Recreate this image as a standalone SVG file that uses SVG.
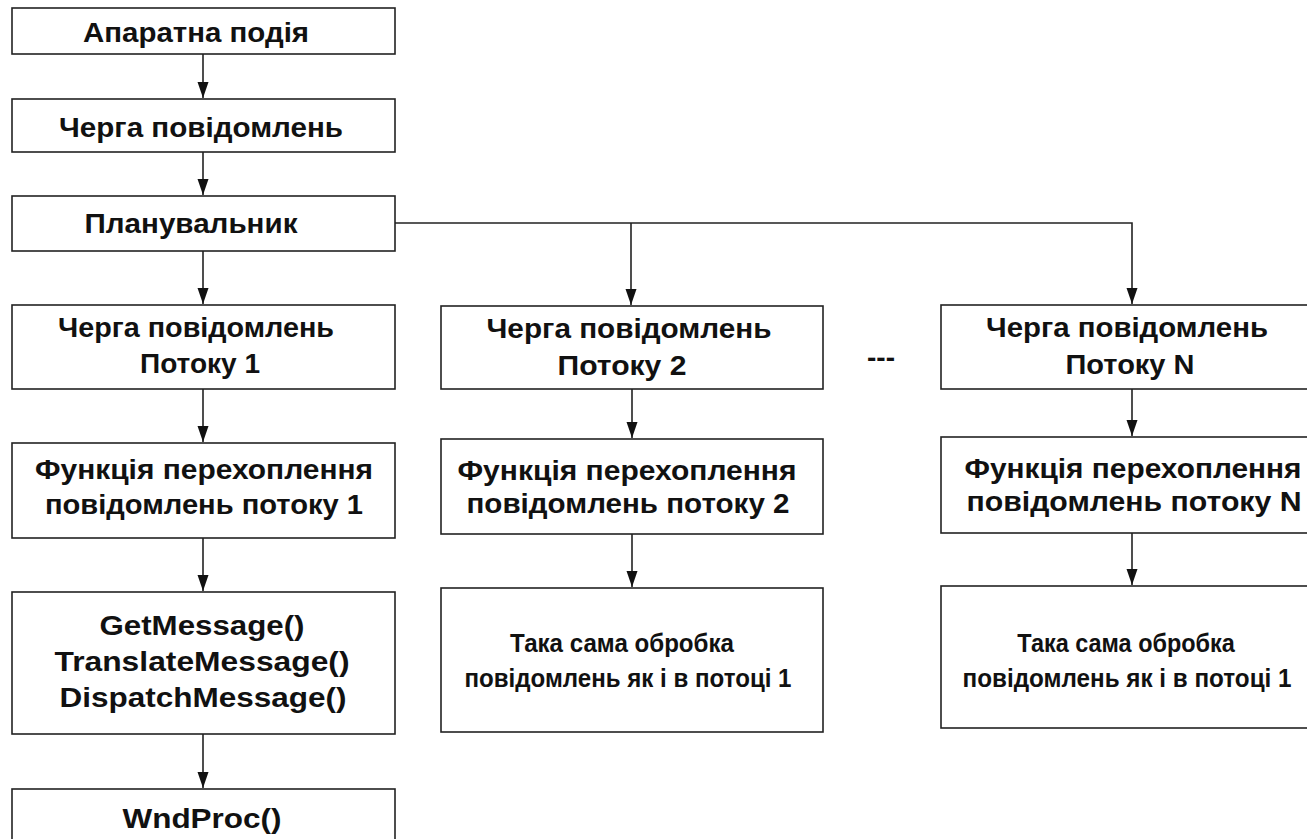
<svg xmlns="http://www.w3.org/2000/svg" width="1307" height="839" viewBox="0 0 1307 839">
<style>
.box{fill:#fff;stroke:#222;stroke-width:1.6}
.t{font-family:"Liberation Sans",Arial,sans-serif;font-weight:bold;font-size:28px;fill:#111;text-anchor:middle}
.n{font-family:"Liberation Sans Narrow","Liberation Sans",Arial,sans-serif;font-weight:bold;font-size:26px;fill:#111;text-anchor:middle}
.c{fill:none;stroke:#222;stroke-width:1.6}
</style>
<defs>
<marker id="ah" markerUnits="userSpaceOnUse" markerWidth="17" markerHeight="12" viewBox="0 -6 17 12" refX="16" refY="0" orient="auto">
<path d="M0,-5.5 L16,0 L0,5.5 z" fill="#111"/>
</marker>
</defs>
<rect width="1307" height="839" fill="#fff"/>
<g id="connectors">
<path class="c" d="M203,54 V98" marker-end="url(#ah)"/>
<path class="c" d="M203,152 V195" marker-end="url(#ah)"/>
<path class="c" d="M203,251 V304" marker-end="url(#ah)"/>
<path class="c" d="M395,223 H1132 V304" marker-end="url(#ah)"/>
<path class="c" d="M631,223 V305" marker-end="url(#ah)"/>
<path class="c" d="M203,389 V442" marker-end="url(#ah)"/>
<path class="c" d="M203,538 V591" marker-end="url(#ah)"/>
<path class="c" d="M203,734 V788" marker-end="url(#ah)"/>
<path class="c" d="M632,389 V438" marker-end="url(#ah)"/>
<path class="c" d="M632,534 V587" marker-end="url(#ah)"/>
<path class="c" d="M1132,389 V436" marker-end="url(#ah)"/>
<path class="c" d="M1132,533 V585" marker-end="url(#ah)"/>
</g>
<g id="n1"><rect class="box" x="12" y="8" width="383" height="46"/><text class="t" x="196" y="42" textLength="226" lengthAdjust="spacingAndGlyphs">Апаратна подія</text></g>
<g id="n2"><rect class="box" x="12" y="99" width="383" height="53"/><text class="t" x="201" y="137" textLength="284" lengthAdjust="spacingAndGlyphs">Черга повідомлень</text></g>
<g id="n3"><rect class="box" x="12" y="196" width="383" height="55"/><text class="t" x="191" y="233" textLength="213" lengthAdjust="spacingAndGlyphs">Планувальник</text></g>
<g id="n4"><rect class="box" x="12" y="305" width="383" height="84"/><text class="t" x="196" y="337" textLength="276" lengthAdjust="spacingAndGlyphs">Черга повідомлень</text><text class="t" x="200" y="373" textLength="120" lengthAdjust="spacingAndGlyphs">Потоку 1</text></g>
<g id="n5"><rect class="box" x="12" y="443" width="383" height="95"/><text class="t" x="204" y="479" textLength="338" lengthAdjust="spacingAndGlyphs">Функція перехоплення</text><text class="t" x="204" y="514" textLength="318" lengthAdjust="spacingAndGlyphs">повідомлень потоку 1</text></g>
<g id="n6"><rect class="box" x="12" y="592" width="383" height="142"/><text class="t" x="202" y="635" textLength="205" lengthAdjust="spacingAndGlyphs">GetMessage()</text><text class="t" x="202" y="671" textLength="295" lengthAdjust="spacingAndGlyphs">TranslateMessage()</text><text class="t" x="203" y="707" textLength="287" lengthAdjust="spacingAndGlyphs">DispatchMessage()</text></g>
<g id="n7"><rect class="box" x="12" y="789" width="383" height="70"/><text class="t" x="202" y="828" textLength="159" lengthAdjust="spacingAndGlyphs">WndProc()</text></g>
<g id="n8"><rect class="box" x="441" y="306" width="382" height="83"/><text class="t" x="629" y="338" textLength="285" lengthAdjust="spacingAndGlyphs">Черга повідомлень</text><text class="t" x="622" y="375" textLength="129" lengthAdjust="spacingAndGlyphs">Потоку 2</text></g>
<g id="n9"><rect class="box" x="441" y="439" width="382" height="95"/><text class="t" x="627" y="480" textLength="339" lengthAdjust="spacingAndGlyphs">Функція перехоплення</text><text class="t" x="628" y="513" textLength="323" lengthAdjust="spacingAndGlyphs">повідомлень потоку 2</text></g>
<g id="n10"><rect class="box" x="441" y="588" width="382" height="144"/><text class="n" x="622" y="652" textLength="224" lengthAdjust="spacingAndGlyphs">Така сама обробка</text><text class="n" x="628" y="687" textLength="327" lengthAdjust="spacingAndGlyphs">повідомлень як і в потоці 1</text></g>
<g id="dots"><text class="t" x="881" y="367">---</text></g>
<g id="n11"><rect class="box" x="941" y="305" width="380" height="84"/><text class="t" x="1127" y="337" textLength="282" lengthAdjust="spacingAndGlyphs">Черга повідомлень</text><text class="t" x="1130" y="374" textLength="129" lengthAdjust="spacingAndGlyphs">Потоку N</text></g>
<g id="n12"><rect class="box" x="941" y="437" width="380" height="96"/><text class="t" x="1133" y="478" textLength="337" lengthAdjust="spacingAndGlyphs">Функція перехоплення</text><text class="t" x="1134" y="511" textLength="335" lengthAdjust="spacingAndGlyphs">повідомлень потоку N</text></g>
<g id="n13"><rect class="box" x="941" y="586" width="380" height="142"/><text class="n" transform="translate(1126,652) scale(0.85,1)" x="0" y="0" textLength="256" lengthAdjust="spacingAndGlyphs">Така сама обробка</text><text class="n" transform="translate(1127,687) scale(0.85,1)" x="0" y="0" textLength="387" lengthAdjust="spacingAndGlyphs">повідомлень як і в потоці 1</text></g>
</svg>
